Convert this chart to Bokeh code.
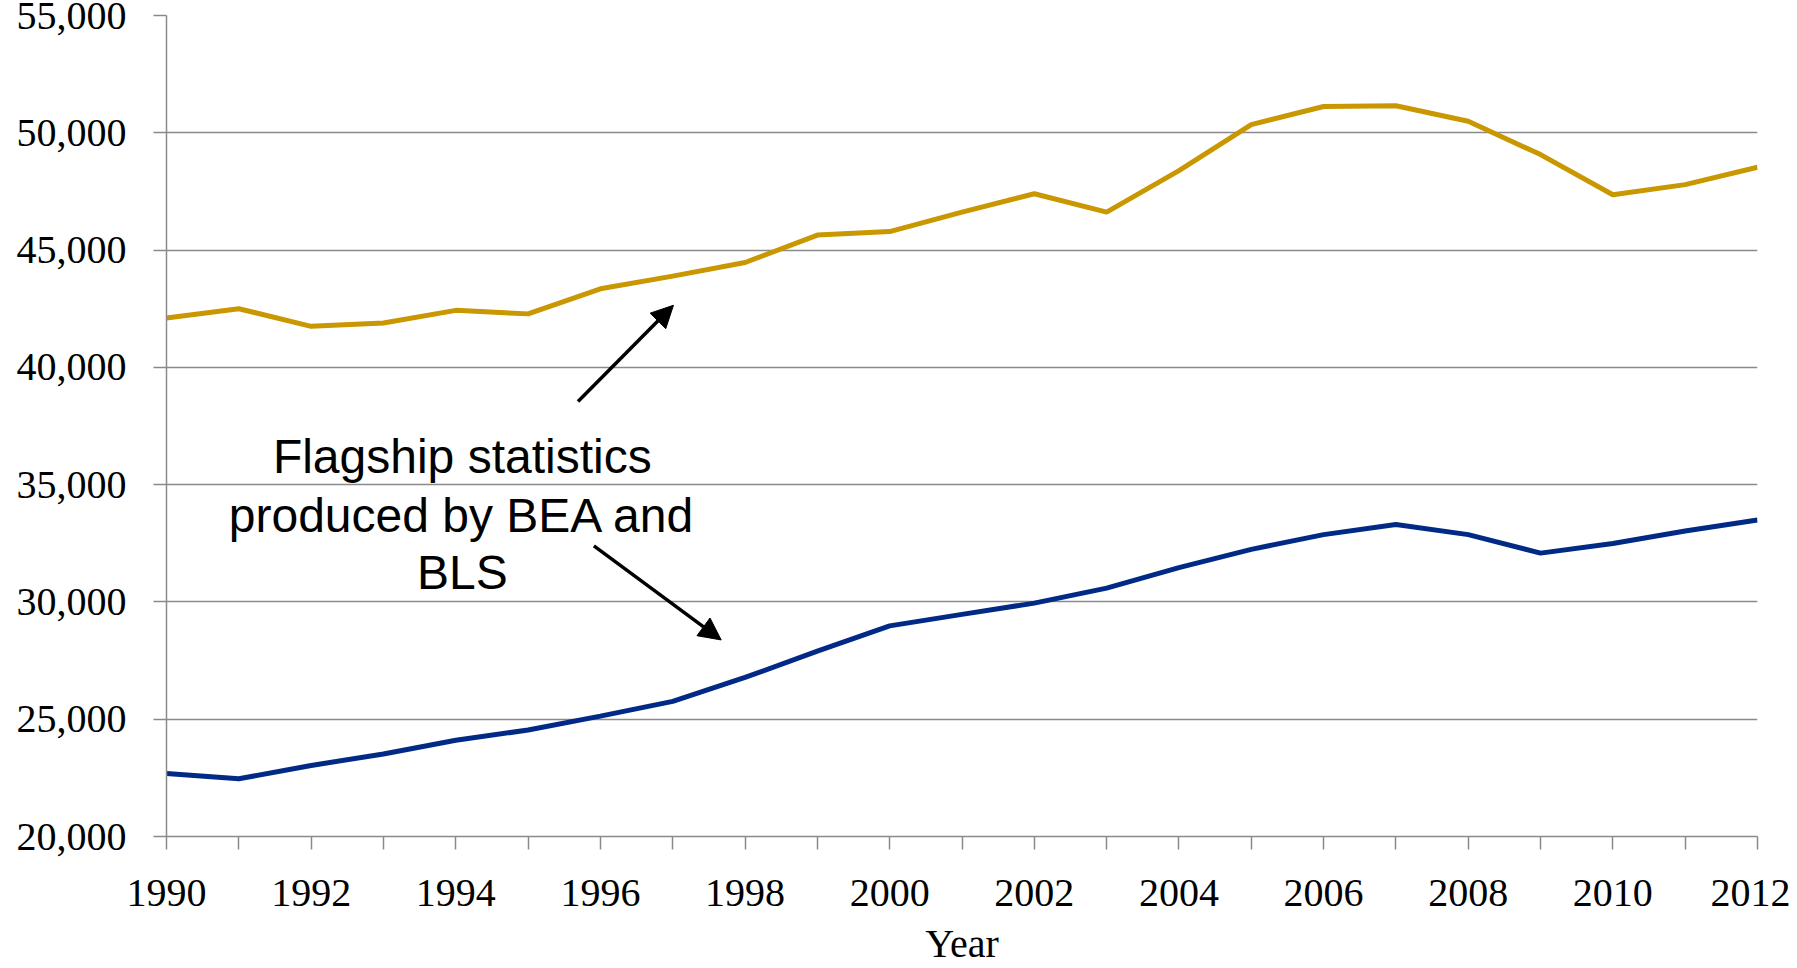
from bokeh.plotting import figure
from bokeh.models import (FixedTicker, NumeralTickFormatter, Arrow, NormalHead,
                          ColumnDataSource, Range1d)
from bokeh.core.properties import value
from bokeh.embed import file_html
from bokeh.resources import INLINE

# ---- data ----
years = list(range(1990, 2013))
gold_values = [42100, 42500, 41750, 41890, 42430, 42280, 43350, 43890, 44470, 45640,
               45790, 46620, 47400, 46620, 48390, 50350, 51120, 51150, 50490, 49070,
               47360, 47790, 48530]
blue_values = [22690, 22460, 23030, 23520, 24100, 24540, 25130, 25760, 26780, 27900,
               28980, 29470, 29950, 30590, 31460, 32240, 32870, 33300, 32870, 32080,
               32490, 33020, 33490]
y_ticks = [20000, 25000, 30000, 35000, 40000, 45000, 50000, 55000]
x_label_ticks = list(range(1990, 2013, 2))
x_minor_ticks = list(range(1991, 2013, 2))

note_lines = ["Flagship statistics", "produced by BEA and", "BLS"]
note_x = [1994.09, 1994.09, 1994.09]
note_y = [36200, 33690, 31260]
arrow_x_start = [1995.69, 1995.91]
arrow_y_start = [38546, 32387]
arrow_x_end = [1997.01, 1997.67]
arrow_y_end = [42647, 28380]

GOLD = "#C99700"
BLUE = "#002A86"
GRAY = "#8A8A8A"
SERIF = "Liberation Serif"

p = figure(width=1790, height=968, output_backend="svg", toolbar_location=None,
           x_range=Range1d(1990, 2012), y_range=Range1d(20000, 55000),
           min_border_left=166, min_border_right=33, min_border_top=15,
           min_border_bottom=132)
p.outline_line_color = None
p.background_fill_color = "white"

p.line(years, gold_values, line_color=GOLD, line_width=5)
p.line(years, blue_values, line_color=BLUE, line_width=5)

# annotation text
src = ColumnDataSource(dict(x=note_x, y=note_y, t=note_lines))
p.text(x="x", y="y", text="t", source=src, text_align="center",
       text_baseline="middle", text_font=value("Liberation Sans"),
       text_font_size="48px", text_color="black")

for xs, ys, xe, ye in zip(arrow_x_start, arrow_y_start, arrow_x_end, arrow_y_end):
    p.add_layout(Arrow(end=NormalHead(size=22, fill_color="black", line_color="black"),
                       x_start=xs, y_start=ys, x_end=xe, y_end=ye,
                       line_width=3.5, line_color="black"))

# grid
p.xgrid.visible = False
p.ygrid.grid_line_color = GRAY
p.ygrid.grid_line_width = 1.5
p.ygrid.ticker = FixedTicker(ticks=y_ticks)

# y axis
p.yaxis.ticker = FixedTicker(ticks=y_ticks)
p.yaxis.formatter = NumeralTickFormatter(format="0,0")
p.yaxis.axis_line_color = GRAY
p.yaxis.axis_line_width = 1.5
p.yaxis.major_tick_line_color = GRAY
p.yaxis.major_tick_line_width = 1.5
p.yaxis.major_tick_in = 0
p.yaxis.major_tick_out = 13
p.yaxis.minor_tick_line_color = None
p.yaxis.major_label_standoff = 27
p.yaxis.major_label_text_font = SERIF
p.yaxis.major_label_text_font_size = "40px"
p.yaxis.major_label_text_color = "black"

# x axis
p.xaxis.ticker = FixedTicker(ticks=x_label_ticks, minor_ticks=x_minor_ticks)
p.xaxis.axis_line_color = GRAY
p.xaxis.axis_line_width = 1.5
p.xaxis.major_tick_line_color = GRAY
p.xaxis.major_tick_line_width = 1.5
p.xaxis.major_tick_in = 0
p.xaxis.major_tick_out = 13
p.xaxis.minor_tick_line_color = GRAY
p.xaxis.minor_tick_line_width = 1.5
p.xaxis.minor_tick_in = 0
p.xaxis.minor_tick_out = 13
p.xaxis.major_label_standoff = 30
p.xaxis.major_label_text_font = SERIF
p.xaxis.major_label_text_font_size = "40px"
p.xaxis.major_label_text_color = "black"
p.xaxis.axis_label = "Year"
p.xaxis.axis_label_text_font = SERIF
p.xaxis.axis_label_text_font_size = "40px"
p.xaxis.axis_label_text_font_style = "normal"
p.xaxis.axis_label_text_color = "black"
p.xaxis.axis_label_standoff = 12

open("out.html", "w").write(file_html(p, INLINE))
